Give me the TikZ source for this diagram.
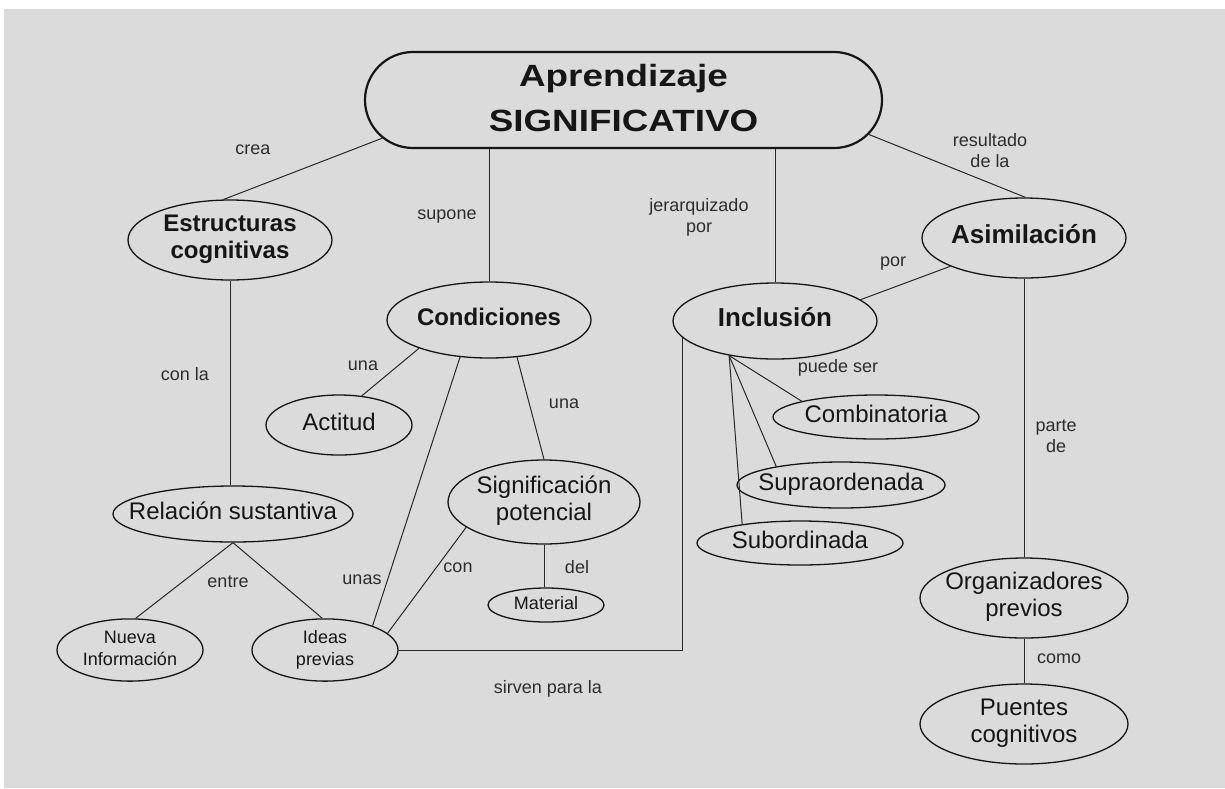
\documentclass[tikz,border=0pt]{standalone}
\usepackage{fontspec}
\setmainfont{Liberation Sans}
\newfontfamily\titlefont{Liberation Sans}[FakeStretch=1.2]
\usetikzlibrary{shapes.geometric,shapes.misc,calc}
\definecolor{bg}{RGB}{219,219,219}
\definecolor{ink}{RGB}{22,22,22}
\definecolor{lnk}{RGB}{40,40,40}
\newcommand\zt[1]{\makebox[0pt]{\begin{tabular}{@{}c@{}}#1\end{tabular}}}
\newcommand\fnode{\fontsize{24}{27}\selectfont}
\newcommand\fsmall{\fontsize{18}{22}\selectfont}
\begin{document}
\begin{tikzpicture}[x=1pt,y=-1pt,
  ell/.style={ellipse, draw=ink, line width=1.3pt, inner sep=0pt, text=ink},
  bnode/.style={ell, font=\bfseries\fnode},
  bbig/.style={ell, font=\bfseries\fontsize{26}{29}\selectfont},
  rnode/.style={ell, font=\fnode},
  snode/.style={ell, font=\fsmall},
  lbl/.style={font=\fontsize{18}{21}\selectfont, text=ink!90, align=center, inner sep=0pt},
  conn/.style={draw=lnk, line width=1pt},
]
\useasboundingbox (0,0) rectangle (1225,788);
\fill[white] (0,0) rectangle (1225,788);
\fill[bg] (4,9) rectangle (1225,788);

% nodes
\node[rounded rectangle, draw=ink, line width=2.2pt, minimum width=517pt, minimum height=96pt, inner sep=0pt, text=ink,
      font=\titlefont\bfseries\fontsize{30.7}{45}\selectfont] (top) at (623.5,100) {\zt{Aprendizaje\\SIGNIFICATIVO}};

\node[bnode, minimum width=204pt, minimum height=80pt] (estr) at (230,240) {\zt{Estructuras\\cognitivas}};
\node[bnode, minimum width=204pt, minimum height=76pt] (cond) at (489,320) {\zt{Condiciones}};
\node[bbig, minimum width=204pt, minimum height=76pt] (incl) at (775,321) {\zt{Inclusión}};
\node[bbig, minimum width=204pt, minimum height=80pt] (asim) at (1024,238) {\zt{Asimilación}};

\node[rnode, minimum width=146pt, minimum height=60pt] (act) at (339,425) {\zt{Actitud}};
\node[rnode, minimum width=192pt, minimum height=84pt] (sig) at (544,502) {\zt{Significación\\potencial}};
\node[snode, minimum width=116pt, minimum height=34pt] (mat) at (546,605) {\zt{Material}};
\node[rnode, minimum width=240pt, minimum height=56pt] (rel) at (233,514) {\zt{Relación sustantiva}};
\node[snode, minimum width=146pt, minimum height=60pt] (nue) at (130,650) {\zt{Nueva\\Información}};
\node[snode, minimum width=146pt, minimum height=60pt] (ide) at (325,650) {\zt{Ideas\\previas}};

\node[rnode, minimum width=206pt, minimum height=44pt] (comb) at (876,417) {\zt{Combinatoria}};
\node[rnode, minimum width=208pt, minimum height=46pt] (supra) at (841,485) {\zt{Supraordenada}};
\node[rnode, minimum width=206pt, minimum height=44pt] (sub) at (800,543) {\zt{Subordinada}};

\node[rnode, minimum width=208pt, minimum height=80pt] (org) at (1024,598) {\zt{Organizadores\\previos}};
\node[rnode, minimum width=208pt, minimum height=80pt] (pue) at (1024,724) {\zt{Puentes\\cognitivos}};

% connectors
\draw[conn] (top.-171.2) -- (estr.99);
\draw[conn] (top.south -| cond.north) -- (cond.north);
\draw[conn] (top.south -| incl.north) -- (incl.north);
\draw[conn] (top.-8.4) -- (asim.88);
\draw[conn] (estr.south) -- (estr.south |- rel.north);
\draw[conn] (rel.south) -- (nue.80);
\draw[conn] (rel.south) -- (ide.95);
\draw[conn] (cond.-158) -- (act.52);
\draw[conn] (cond.-53) -- (sig.north);
\draw[conn] (cond.-128) -- (ide.27);
\draw[conn] (sig.-162) -- (ide.15);
\draw[conn] (sig.south) -- (sig.south |- mat.north);
\draw[conn] (ide.east) -| (incl.-170.1);
\draw[conn] (incl.14) -- (asim.201);
\draw[conn] (incl.-143) -- (comb.168);
\draw[conn] (incl.-143) -- (supra.164.5);
\draw[conn] (incl.-143) -- (sub.162);
\draw[conn] (asim.south) -- (org.north);
\draw[conn] (org.south) -- (pue.north);

% labels
\node[lbl] (l1) at (253,150) {crea};
\node[lbl] (l2) at (447,217) {supone};
\node[lbl] (l3) at (699,217) {jerarquizado\\por};
\node[lbl] (l4) at (990,151) {resultado\\de la};
\node[lbl] (l5) at (185,374) {con la};
\node[lbl] (l6) at (363,366) {una};
\node[lbl] (l7) at (564,404) {una};
\node[lbl] (l8) at (362,580) {unas};
\node[lbl] (l9) at (458,568) {con};
\node[lbl] (l10) at (577,567) {del};
\node[lbl] (l11) at (228,582) {entre};
\node[lbl] (l12) at (548,689) {sirven para la};
\node[lbl] (l13) at (893,264) {por};
\node[lbl] (l14) at (838,368) {puede ser};
\node[lbl] (l15) at (1056,436) {parte\\de};
\node[lbl] (l16) at (1059,659) {como};
\end{tikzpicture}
\end{document}
